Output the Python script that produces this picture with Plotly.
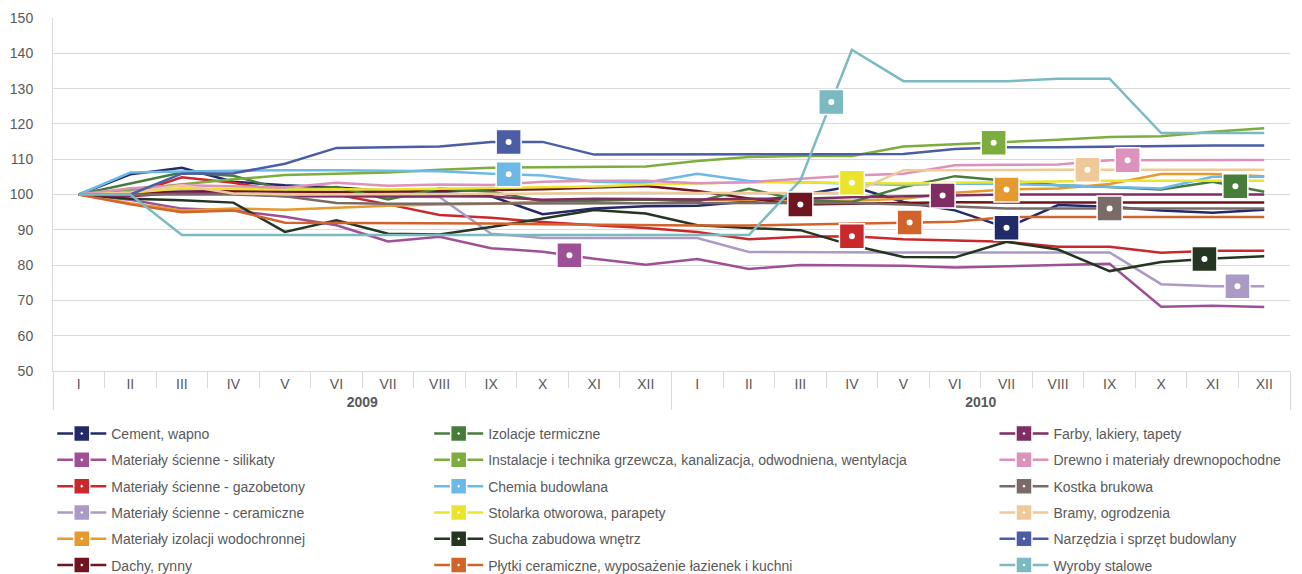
import numpy as np
import plotly.graph_objects as go

months = ["I", "II", "III", "IV", "V", "VI", "VII", "VIII", "IX", "X", "XI", "XII"]
years = ["2009", "2010"]

names = [
    "Cement, wapno", "Materiały ścienne - silikaty", "Materiały ścienne - gazobetony",
    "Materiały ścienne - ceramiczne", "Materiały izolacji wodochronnej", "Dachy, rynny",
    "Izolacje termiczne", "Instalacje i technika grzewcza, kanalizacja, odwodniena, wentylacja",
    "Chemia budowlana", "Stolarka otworowa, parapety", "Sucha zabudowa wnętrz",
    "Płytki ceramiczne, wyposażenie łazienek i kuchni",
    "Farby, lakiery, tapety", "Drewno i materiały drewnopochodne", "Kostka brukowa",
    "Bramy, ogrodzenia", "Narzędzia i sprzęt budowlany", "Wyroby stalowe",
]

cement = [100, 105.7, 107.6, 103.6, 102.6, 102, 101, 100.5, 99.5, 94.4, 96, 96.7,
          96.8, 98, 99.8, 102.3, 97.9, 95.5, 90.6, 97, 96.5, 95.5, 94.8, 95.7]
silikaty = [100, 98.5, 96, 95.5, 93.7, 91.3, 86.7, 88, 84.8, 83.8, 81.8, 80.1,
            81.7, 78.9, 80, 80, 79.8, 79.3, 79.6, 79.9, 80.4, 68.2, 68.5, 68.1]
gazobetony = [100, 100, 104.9, 103.3, 100.8, 100, 97.2, 94.2, 93.4, 92.2, 91.3, 90.5,
              89.4, 87.3, 88, 88.2, 87.3, 86.9, 86.6, 85.2, 85.2, 83.5, 84.1, 84.1]
ceramiczne = [100, 101, 101.5, 101, 100.5, 100, 99.5, 99.3, 88.9, 87.7, 87.7, 87.7,
              87.7, 83.7, 83.6, 83.6, 83.6, 83.6, 83.6, 83.6, 83.6, 74.6, 74, 74]
wodochronna = [100, 97.5, 95.5, 96, 95.7, 96.3, 96.8, 97.2, 97.4, 98, 98.5, 98.6,
               98.5, 98.3, 98.2, 98.2, 98.8, 100.5, 101.4, 101.7, 103, 105.8, 105.8, 105.2]
dachy = [100, 100.5, 100.8, 101, 100.8, 100.7, 100.8, 101, 101.2, 101.5, 102, 102.4,
         101, 98.9, 97.2, 97.5, 97.6, 97.8, 97.7, 97.7, 97.7, 97.7, 97.7, 97.7]
izolacje = [100, 103, 106.2, 105.3, 101.3, 102.1, 98.6, 101.7, 100.8, 98.1, 98.2, 98.6,
            98, 101.6, 98.4, 97.9, 102.1, 105.2, 104, 102.6, 102.1, 101.4, 103.6, 100.8]
instalacje = [100, 101.5, 103, 104.3, 105.5, 105.9, 106.2, 107, 107.6, 107.7, 107.9, 107.9,
              109.5, 110.6, 110.9, 110.9, 113.6, 114.2, 114.8, 115.5, 116.3, 116.5, 117.8, 118.8]
chemia = [100, 106.2, 106.5, 106.8, 106.9, 106.9, 106.8, 106.6, 105.9, 105.4, 103.6, 103.3,
          105.9, 103.8, 103.5, 103, 102.7, 103.1, 103, 102.6, 102.1, 101.7, 105, 105]
stolarka = [100, 100.5, 101.8, 101.6, 101.4, 101.5, 101.4, 101.6, 101.8, 102, 102.3, 102.8,
            103.2, 103.5, 103.4, 103.3, 103.1, 103.3, 103.5, 103.8, 103.9, 103.9, 103.9, 103.9]
sucha = [100, 98.8, 98.4, 97.7, 89.4, 92.7, 88.9, 88.7, 90.8, 93.2, 95.6, 94.6,
         91.3, 90.5, 89.9, 85.6, 82.3, 82.2, 86.6, 84.4, 78.3, 80.9, 81.9, 82.5]
plytki = [100, 97.2, 95, 95.5, 92, 92, 92, 92, 91.8, 91.6, 91.4, 91.2,
          91.2, 91.2, 91.4, 91.6, 92, 92.3, 93.6, 93.6, 93.6, 93.6, 93.6, 93.6]
farby = [100, 99.5, 100.5, 100.3, 99.5, 99.4, 99.4, 99.5, 99.4, 98.5, 98.8, 98.7,
         98.6, 98.8, 98.8, 99.2, 99.5, 99.8, 100, 100, 100, 100, 100, 100]
drewno = [100, 101.8, 102.6, 102.3, 102, 103.3, 102.5, 102.8, 102.7, 103.6, 103.9, 103.9,
          103.2, 103.5, 104.5, 105.4, 105.9, 108.3, 108.4, 108.5, 109.7, 109.8, 109.8, 109.8]
kostka = [100, 100, 100, 100, 99.5, 97.6, 97.4, 97.4, 97.4, 97.4, 97.4, 97.4,
          97.5, 97.6, 97.6, 97.6, 97.2, 96.5, 96, 96, 96, 96, 96, 96]
bramy = [100, 100.5, 102.6, 100.3, 100, 100, 100, 100, 100.2, 100.3, 100.5, 100.5,
         100.4, 100.4, 100.4, 100.4, 106.9, 107, 107, 107, 107, 107, 107, 107]
narzedzia = [100, 100, 105.9, 106, 108.7, 113.2, 113.4, 113.6, 114.9, 114.9, 111.3, 111.3,
             111.3, 111.3, 111.3, 111.3, 111.5, 112.9, 113.4, 113.4, 113.6, 113.9, 113.9, 113.9]
wyroby = [100, 100, 88.5, 88.5, 88.5, 88.5, 88.5, 88.5, 88.5, 88.5, 88.5, 88.5,
          88.5, 88.5, 104, 141, 132.1, 132.1, 132.1, 132.8, 132.8, 117.4, 117.4, 117.4]

values = [cement, silikaty, gazobetony, ceramiczne, wodochronna, dachy,
          izolacje, instalacje, chemia, stolarka, sucha, plytki,
          farby, drewno, kostka, bramy, narzedzia, wyroby]

# fractional month index where each series' identifying marker sits
marker_at = [18, 9.52, 15, 22.48, 18, 14,
             22.44, 17.75, 8.34, 15, 21.84, 16.12,
             16.76, 20.35, 20, 19.57, 8.34, 14.6]

colors = ["#222a68", "#9e5096", "#c9282d", "#ab9ac5", "#e49a2e", "#6e1520",
          "#477d3a", "#7cad3d", "#6cb9e8", "#ebe42d", "#243521", "#d2632a",
          "#7e2e62", "#dd92bb", "#7a6b68", "#f0c998", "#4a5da5", "#7bbac0"]
legends = ["legend"] * 6 + ["legend2"] * 6 + ["legend3"] * 6

FONT = "Liberation Sans, Arial, sans-serif"
GREY = "#595959"
GRID = "#d9d9d9"

n = len(months) * len(years)
x_year = [f"<b>{y}</b>" for y in years for _ in months]
x_month = months * len(years)

fig = go.Figure()
for name, vals, col, lg in zip(names, values, colors, legends):
    fig.add_trace(go.Scatter(
        x=[x_year, x_month], y=vals, mode="lines",
        line=dict(color=col, width=2.5), name=name,
        showlegend=False, legendgroup=name, legend=lg, hoverinfo="skip"))

idx = np.arange(n)
for name, vals, col, lg, pos in zip(names, values, colors, legends, marker_at):
    yv = float(np.interp(pos, idx, vals))
    fig.add_trace(go.Scatter(
        x=[pos], y=[yv], xaxis="x2", mode="lines+markers", name=name,
        line=dict(color=col, width=2.5),
        marker=dict(symbol="square-dot", size=25, color=col,
                    line=dict(color="white", width=1.5)),
        legendgroup=name, legend=lg, showlegend=True))
    fig.add_trace(go.Scatter(
        x=[pos], y=[yv], xaxis="x2", mode="markers",
        marker=dict(symbol="circle", size=6, color="white", line=dict(width=0)),
        legendgroup=name, legend=lg, showlegend=False, hoverinfo="skip"))

legend_common = dict(font=dict(family=FONT, size=14, color=GREY),
                     orientation="v", yanchor="top", xanchor="left",
                     bgcolor="rgba(0,0,0,0)", itemwidth=49,
                     tracegroupgap=5.1, itemclick=False, maxheight=260)

fig.update_layout(
    width=1302, height=574,
    margin=dict(l=53, r=12, t=17.5, b=203, autoexpand=False),
    paper_bgcolor="white", plot_bgcolor="white",
    font=dict(family=FONT, size=14, color=GREY),
    xaxis=dict(type="multicategory", range=[-0.5, n - 0.5],
               showgrid=False, showline=True,
               linecolor=GRID, linewidth=1,
               ticks="outside", tickson="boundaries", ticklen=16,
               tickcolor=GRID, tickwidth=1,
               showdividers=True, dividercolor=GRID, dividerwidth=1,
               tickfont=dict(family=FONT, size=14, color=GREY)),
    xaxis2=dict(overlaying="x", range=[-0.5, n - 0.5], visible=False),
    yaxis=dict(range=[50, 150], dtick=10, showgrid=True, gridcolor=GRID,
               gridwidth=1, zeroline=False, showline=True, linecolor=GRID,
               ticks="outside", ticklen=16, tickcolor="rgba(0,0,0,0)",
               tickfont=dict(family=FONT, size=14, color=GREY)),
    legend=dict(x=-0.0006, y=-0.133, **legend_common),
    legend2=dict(x=0.3041, y=-0.133, **legend_common),
    legend3=dict(x=0.7611, y=-0.133, **legend_common),
    hovermode=False,
)

fig.write_html("out.html",
               config={"displayModeBar": False},
               post_script="document.body.style.margin='0';"
                           "document.body.style.overflow='hidden';")
